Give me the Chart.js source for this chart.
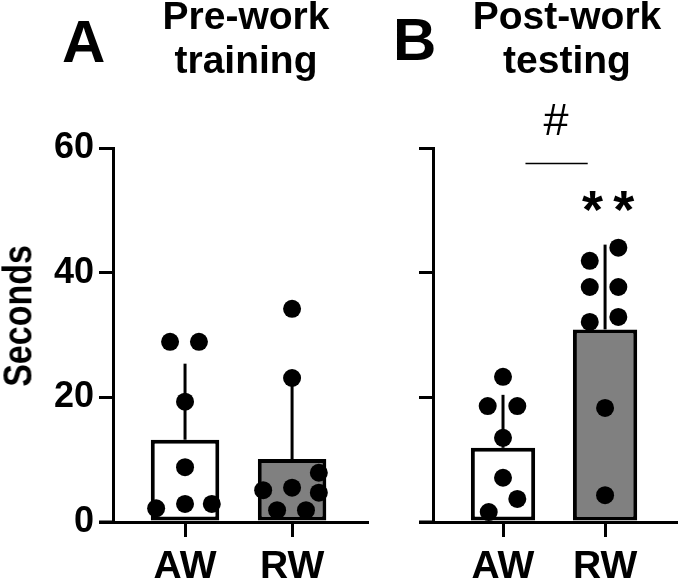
<!DOCTYPE html>
<html>
<head>
<meta charset="utf-8">
<script src="https://cdn.jsdelivr.net/npm/chart.js@4"></script>
<style>
  body {margin: 0; background: #fff; font-family: 'Liberation Sans', Arial, sans-serif; color: #000}
  #wrap {position: relative; width: 685px; height: 582px; overflow: hidden}
  canvas {position: absolute; left: 0; top: 0}
  .lbl {position: absolute; font-weight: bold; white-space: nowrap}
  .panel {font-size: 60px; line-height: 1}
  .title {font-size: 39px; line-height: 44px; text-align: center; width: 240px}
  .ytitle {font-size: 34px; line-height: 40px; width: 200px; text-align: center; transform: rotate(-90deg) scaleY(1.18)}
</style>
</head>
<body>
<div id="wrap">
  <canvas id="pre" width="685" height="582"></canvas>
  <canvas id="post" width="685" height="582"></canvas>
  <div class="lbl panel" style="left:62px;top:12px">A</div>
  <div class="lbl panel" style="left:393px;top:10px">B</div>
  <div class="lbl title" style="left:126px;top:-6px">Pre-work<br>training</div>
  <div class="lbl title" style="left:447px;top:-6px">Post-work<br>testing</div>
  <div class="lbl ytitle" style="left:-83px;top:296px">Seconds</div>
</div>
<script>
const groups = ['AW', 'RW']
const barColors = ['#ffffff', '#808080']

// pre-work training
const preMean = [13.2, 10.1]
const preSD = [12.2, 12.6]
const preAW = [28.9, 28.9, 19.3, 8.8, 2.2, 2.9, 2.9]
const preAWJitter = [-0.14, 0.13, 0, 0, -0.27, 0, 0.25]
const preRW = [34.2, 23.1, 5.1, 5.5, 7.9, 4.7, 1.9, 1.9]
const preRWJitter = [0, 0, -0.27, 0, 0.25, 0.25, -0.14, 0.13]

// post-work testing
const postMean = [11.9, 30.9]
const postSD = [8.5, 13.6]
const postAW = [23.3, 18.6, 18.6, 13.5, 7.1, 3.7, 1.6]
const postAWJitter = [0, -0.15, 0.14, 0, 0, 0.14, -0.14]
const postRW = [44.0, 41.9, 37.7, 37.7, 32.1, 32.9, 18.3, 4.3]
const postRWJitter = [0.13, -0.15, -0.15, 0.13, -0.15, 0.13, 0, 0]

// significance marks for panel B (x in group units, y in seconds)
const sigLine = {from: 0.22, to: 0.83, y: 57.5}
const sigHash = {text: '#', x: 0.52, y: 64}
const sigStars = {text: '**', x: 1.03, y: 51.9}

Chart.defaults.font.family = "'Liberation Sans', Arial, sans-serif"
Chart.defaults.color = '#000'
Chart.defaults.animation = false
Chart.defaults.plugins.legend.display = false
Chart.defaults.plugins.tooltip.enabled = false

const toPoints = (vals, jit, g) => vals.map((v, i) => ({x: g + jit[i], y: v}))

const extras = {
  id: 'extras',
  afterDatasetsDraw(chart, args, opts) {
    const {ctx, chartArea, scales: {x, y}} = chart
    ctx.save()
    ctx.strokeStyle = '#000'
    ctx.fillStyle = '#000'
    // x axis runs a little past the y axis, like the original
    ctx.lineWidth = 3
    ctx.beginPath()
    ctx.moveTo(chartArea.left - 14, chartArea.bottom)
    ctx.lineTo(chartArea.left, chartArea.bottom)
    ctx.stroke()
    // upward SD bars
    opts.mean.forEach((m, i) => {
      const px = x.getPixelForValue(i)
      ctx.beginPath()
      ctx.moveTo(px, y.getPixelForValue(m))
      ctx.lineTo(px, y.getPixelForValue(m + opts.sd[i]))
      ctx.stroke()
    })
    if (opts.sig) {
      const s = opts.sig
      ctx.lineWidth = 1.5
      ctx.beginPath()
      ctx.moveTo(x.getPixelForValue(s.line.from), y.getPixelForValue(s.line.y))
      ctx.lineTo(x.getPixelForValue(s.line.to), y.getPixelForValue(s.line.y))
      ctx.stroke()
      ctx.textAlign = 'center'
      ctx.textBaseline = 'middle'
      ctx.font = "45px 'Liberation Sans', Arial, sans-serif"
      ctx.fillText(s.hash.text, x.getPixelForValue(s.hash.x), y.getPixelForValue(s.hash.y))
      ctx.font = "bold 54px 'Liberation Sans', Arial, sans-serif"
      ctx.letterSpacing = '10px'
      ctx.textBaseline = 'alphabetic'
      ctx.fillText(s.stars.text, x.getPixelForValue(s.stars.x) + 5, y.getPixelForValue(s.stars.y) + 30)
    }
    ctx.restore()
  }
}

function panel(canvas, o) {
  return new Chart(canvas, {
    data: {
      datasets: [
        {
          type: 'scatter',
          data: toPoints(o.aw, o.awJit, 0).concat(toPoints(o.rw, o.rwJit, 1)),
          backgroundColor: '#000',
          borderWidth: 0,
          pointRadius: 9,
          order: 0,
        },
        {
          type: 'bar',
          data: o.mean.map((m, i) => ({x: i, y: m})),
          backgroundColor: barColors,
          borderColor: '#000',
          borderWidth: 4,
          borderSkipped: false,
          barPercentage: o.barPct,
          categoryPercentage: 1,
          order: 1,
        },
      ],
    },
    options: {
      responsive: false,
      layout: {padding: o.padding},
      plugins: {extras: {mean: o.mean, sd: o.sd, sig: o.sig}},
      scales: {
        x: {
          type: 'linear',
          min: o.xMin,
          max: o.xMax,
          offset: false,
          afterBuildTicks: s => { s.ticks = groups.map((g, i) => ({value: i})) },
          afterFit: s => { s.height = 60 },
          border: {color: '#000', width: 3},
          grid: {drawOnChartArea: false, offset: false, tickLength: 15, lineWidth: 3, color: '#000'},
          ticks: {callback: v => groups[v], font: {size: 39, weight: 'bold'}, padding: 7, autoSkip: false, maxRotation: 0},
        },
        y: {
          min: 0,
          max: 60,
          afterFit: s => { s.width = o.yWidth },
          border: {color: '#000', width: 3},
          grid: {drawOnChartArea: false, tickLength: 14, lineWidth: 3, color: '#000'},
          ticks: {stepSize: 20, display: o.yLabels, font: {size: 36, weight: 'bold'}, padding: 5},
        },
      },
    },
    plugins: [extras],
  })
}

panel(document.getElementById('pre'), {
  aw: preAW, awJit: preAWJitter, rw: preRW, rwJit: preRWJitter,
  mean: preMean, sd: preSD, barPct: 0.64,
  xMin: -0.673, xMax: 1.70, yWidth: 113, yLabels: true,
  padding: {top: 148, right: 318, bottom: 0, left: 0},
})

panel(document.getElementById('post'), {
  aw: postAW, awJit: postAWJitter, rw: postRW, rwJit: postRWJitter,
  mean: postMean, sd: postSD, barPct: 0.63,
  xMin: -0.686, xMax: 1.695, yWidth: 16, yLabels: false,
  padding: {top: 148, right: 2, bottom: 0, left: 417},
  sig: {line: sigLine, hash: sigHash, stars: sigStars},
})
</script>
</body>
</html>
